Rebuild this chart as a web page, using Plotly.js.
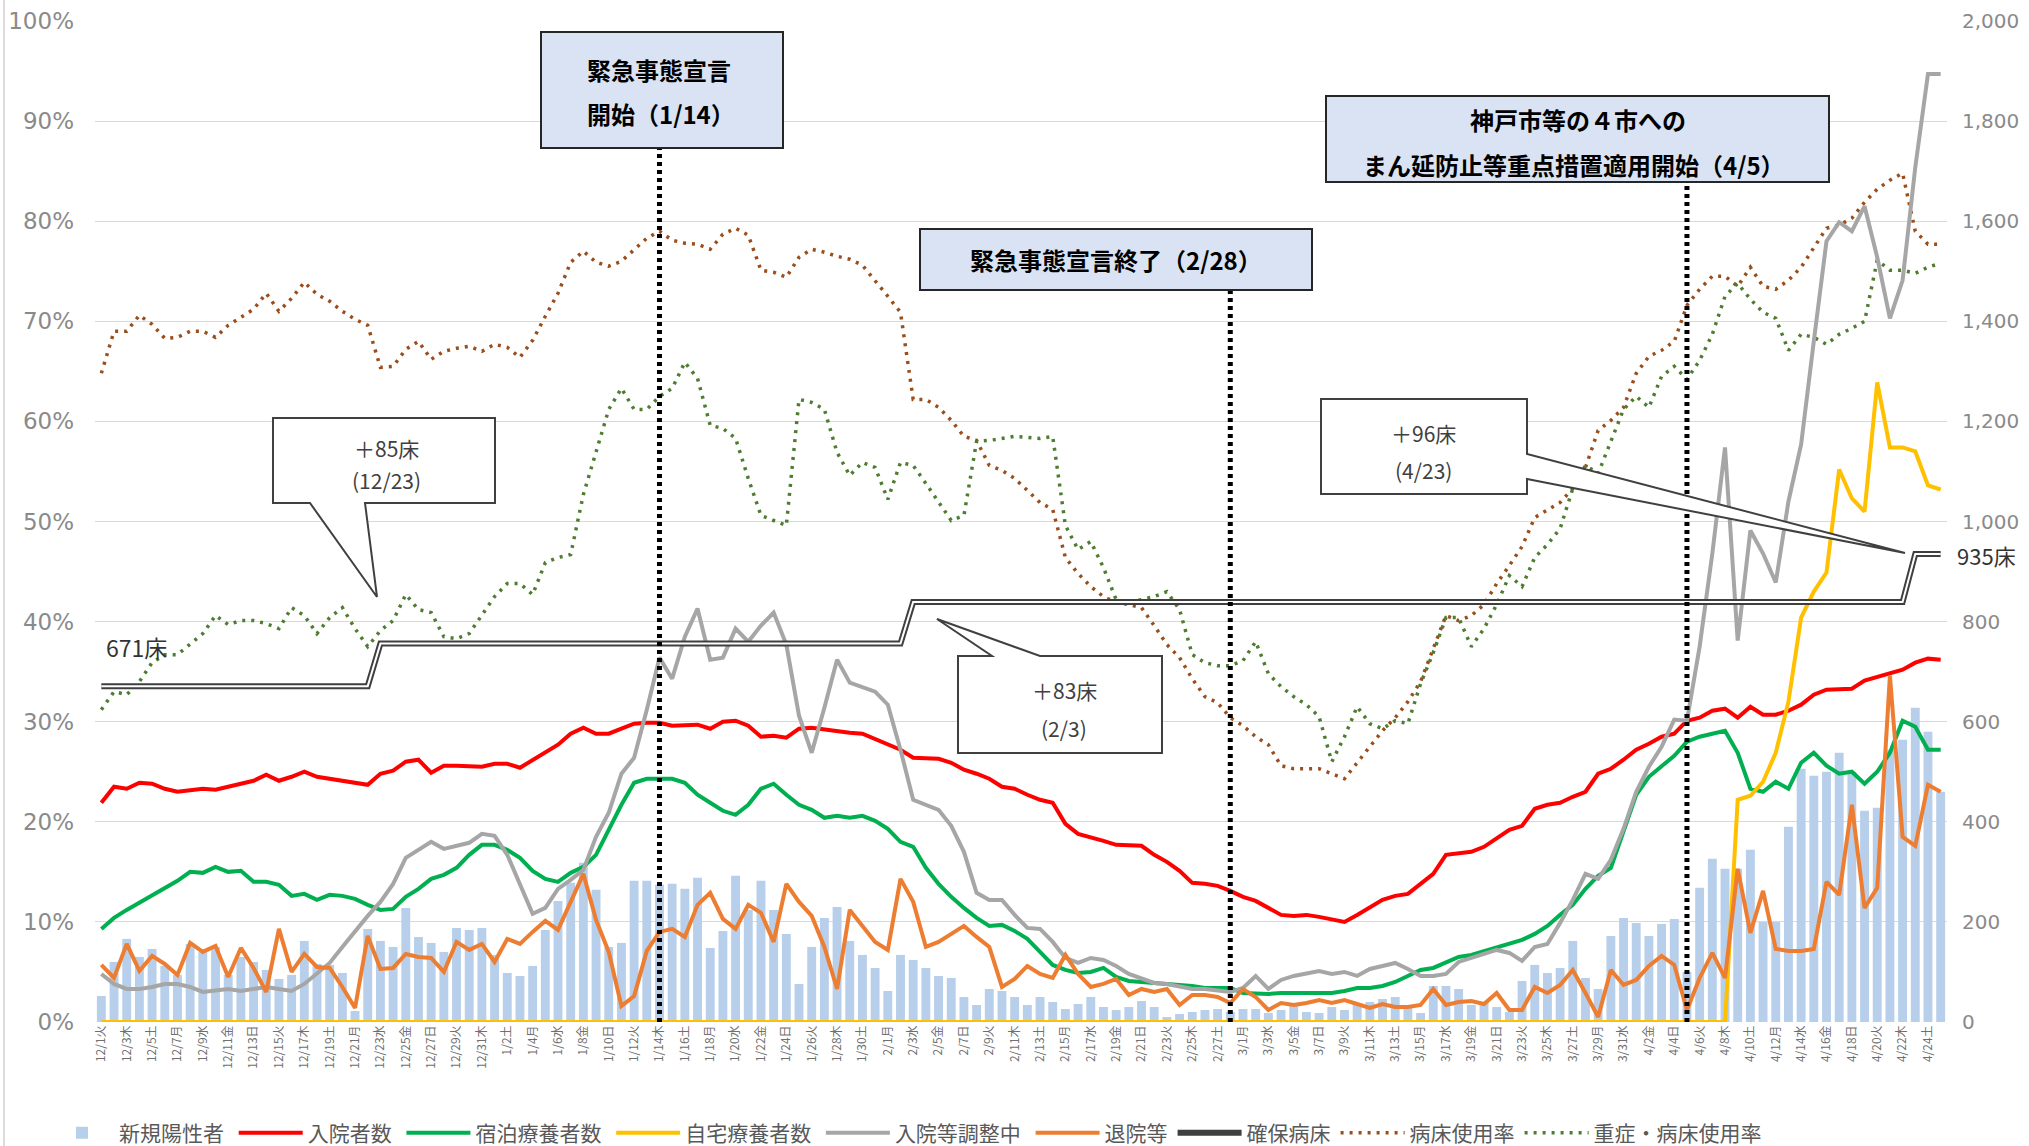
<!DOCTYPE html>
<html><head><meta charset="utf-8">
<script src="https://cdn.plot.ly/plotly-3.0.1.min.js"></script>
<style>html,body{margin:0;padding:0;background:#fff;}#chart{width:2029px;height:1146px;}</style>
</head><body><div id="chart"></div>
<script>
// ---- tick labels (every other day, 12/1 .. 4/24) ----
const tickLabels = ["12/1火","12/3木","12/5土","12/7月","12/9水","12/11金","12/13日","12/15火","12/17木","12/19土","12/21月","12/23水","12/25金","12/27日","12/29火","12/31木","1/2土","1/4月","1/6水","1/8金","1/10日","1/12火","1/14木","1/16土","1/18月","1/20水","1/22金","1/24日","1/26火","1/28木","1/30土","2/1月","2/3水","2/5金","2/7日","2/9火","2/11木","2/13土","2/15月","2/17水","2/19金","2/21日","2/23火","2/25木","2/27土","3/1月","3/3水","3/5金","3/7日","3/9火","3/11木","3/13土","3/15月","3/17水","3/19金","3/21日","3/23火","3/25木","3/27土","3/29月","3/31水","4/2金","4/4日","4/6火","4/8木","4/10土","4/12月","4/14水","4/16金","4/18日","4/20火","4/22木","4/24土"];

// ---- daily series, 12/1 .. 4/25 (146 days) ----
const newPositive = [52,120,166,130,146,112,94,156,140,150, 94,130,120,104,86,94,162,116,114,98, 22,186,162,150,228,170,158,140,188,184, 188,134,98,92,112,184,242,278,318,264, 150,158,282,282,274,276,266,288,148,182, 292,224,282,224,176,76,150,208,230,162, 134,108,62,134,124,108,92,88,50,34, 66,62,50,34,50,40,26,36,50,30, 24,30,42,30,10,16,20,24,26,20, 26,26,18,24,34,20,18,30,24,36, 40,46,50,30,18,72,72,66,34,40, 30,20,82,114,98,108,162,88,66,172, 208,198,172,196,206,100,268,326,306,306, 344,200,200,390,506,492,500,538,500,422, 428,544,564,628,580,460];
const hospitalized = [438,470,466,478,476,466,460,464,466,464, 470,476,482,494,482,490,500,490,486,482, 476,474,496,502,520,524,498,512,512,512, 510,516,516,508,524,538,554,576,588,576, 576,586,596,598,598,592,592,594,586,600, 602,592,570,572,568,586,588,584,582,578, 576,566,554,544,528,526,526,518,504,496, 486,470,466,454,444,438,396,376,370,362, 354,354,352,334,320,302,278,276,272,262, 250,242,228,214,212,214,210,204,200,214, 228,244,252,256,276,296,334,336,340,350, 366,384,392,426,434,438,450,460,496,506, 524,544,556,570,576,602,608,622,626,608, 630,614,614,622,634,654,664,666,666,682, 690,698,704,718,726,724];
const hotelCare = [186,208,224,238,252,266,282,300,298,310, 300,302,280,280,274,252,256,244,254,252, 246,234,224,226,250,266,286,294,308,334, 354,354,344,328,302,286,280,298,310,334, 386,434,478,486,486,486,478,454,438,422, 414,434,466,476,454,434,424,408,412,408, 412,402,386,360,350,308,276,250,228,208, 192,194,182,166,140,114,104,98,100,108, 90,82,80,78,76,72,72,68,68,68, 58,56,56,58,58,58,58,58,62,68, 68,72,80,92,104,108,118,130,134,142, 150,156,164,176,192,214,234,266,292,308, 382,454,490,512,532,560,570,576,582,538, 466,460,480,466,518,538,512,496,500,476, 500,538,602,590,544,544];
const homeCare = [0,0,0,0,0,0,0,0,0,0, 0,0,0,0,0,0,0,0,0,0, 0,0,0,0,0,0,0,0,0,0, 0,0,0,0,0,0,0,0,0,0, 0,0,0,0,0,0,0,0,0,0, 0,0,0,0,0,0,0,0,0,0, 0,0,0,0,0,0,0,0,0,0, 0,0,0,0,0,0,0,0,0,0, 0,0,0,0,0,0,0,0,0,0, 0,0,0,0,0,0,0,0,0,0, 0,0,0,0,0,0,0,0,0,0, 0,0,0,0,0,0,0,0,0,0, 0,0,0,0,0,0,0,0,0,444, 452,480,538,640,808,860,898,1104,1046,1020, 1278,1148,1148,1140,1072,1064];
const adjusting = [96,76,66,66,70,76,76,70,60,62, 66,62,66,70,66,62,76,96,118,150, 182,212,240,276,328,344,360,346,352,358, 376,372,334,276,216,228,266,284,304,370, 418,496,528,624,728,686,770,826,724,728, 786,760,792,818,754,612,538,628,724,678, 670,660,634,544,444,434,424,392,340,258, 244,244,214,188,186,160,128,118,128,124, 112,96,86,78,76,70,66,66,64,60, 68,92,66,84,92,96,102,96,100,92, 106,112,118,106,92,92,96,120,128,138, 144,138,122,150,156,198,244,296,286,324, 386,460,510,550,604,602,750,936,1148,762, 982,936,878,1040,1154,1360,1560,1598,1580,1630, 1528,1406,1482,1708,1894,1894];
const discharged = [114,88,156,102,132,116,94,158,140,152, 90,148,108,60,186,100,136,110,108,70, 28,172,106,108,136,130,128,100,160,144, 156,120,166,156,180,202,184,242,296,204, 140,32,52,142,180,186,170,234,258,206, 186,234,218,160,276,240,212,150,66,224, 192,160,144,286,240,150,160,176,192,170, 150,70,86,112,96,88,134,96,70,76, 86,54,66,60,66,34,54,54,50,38, 66,50,24,38,34,38,44,38,44,36, 28,36,30,30,34,66,34,40,42,36, 58,24,24,70,58,74,104,58,10,104, 74,84,112,132,114,24,88,138,88,306, 178,262,146,142,142,146,280,254,434,228, 268,692,370,352,474,460];
const securedBeds = [671,671,671,671,671,671,671,671,671,671, 671,671,671,671,671,671,671,671,671,671, 671,671,756,756,756,756,756,756,756,756, 756,756,756,756,756,756,756,756,756,756, 756,756,756,756,756,756,756,756,756,756, 756,756,756,756,756,756,756,756,756,756, 756,756,756,756,839,839,839,839,839,839, 839,839,839,839,839,839,839,839,839,839, 839,839,839,839,839,839,839,839,839,839, 839,839,839,839,839,839,839,839,839,839, 839,839,839,839,839,839,839,839,839,839, 839,839,839,839,839,839,839,839,839,839, 839,839,839,839,839,839,839,839,839,839, 839,839,839,839,839,839,839,839,839,839, 839,839,839,935,935,935];
const bedUseRate = [64.8,69.0,69.0,70.6,69.7,68.3,68.4,69.0,69.0,68.4, 69.6,70.4,71.2,72.8,71.0,72.3,73.9,72.7,72.0,71.0, 70.2,69.6,65.4,65.5,67.2,68.0,66.2,67.0,67.3,67.5, 67.0,67.7,67.4,66.4,68.1,70.5,72.8,75.9,77.0,75.9, 75.5,76.0,77.2,78.3,79.0,78.1,77.8,77.7,77.2,78.7, 79.3,78.6,75.1,74.9,74.4,76.4,77.2,76.9,76.5,76.2, 75.6,74.1,72.5,70.9,62.2,62.2,61.4,60.1,58.5,58.1, 55.6,55.1,54.3,53.1,51.9,51.2,46.4,44.8,43.5,42.5, 41.9,41.7,41.4,39.6,37.7,36.4,34.3,32.5,31.9,30.4, 29.6,28.5,27.7,25.6,25.3,25.3,25.3,24.8,24.3,25.9, 27.5,29.1,30.4,32.0,34.0,37.2,40.6,40.1,40.6,41.7, 43.8,45.6,47.5,50.4,51.2,51.9,53.3,55.4,59.1,60.1, 61.4,64.8,66.5,67.1,68.0,71.6,73.2,74.5,74.5,73.5, 75.4,73.5,73.2,74.1,75.4,77.4,79.3,79.6,80.3,81.9, 83.2,84.1,84.8,79.0,77.7,77.7];
const severeUseRate = [31.2,33.0,32.7,34.0,35.9,36.7,36.7,37.7,38.8,40.6, 39.7,40.1,40.1,39.8,39.3,41.4,40.6,38.8,40.4,41.4, 39.3,37.5,39.1,40.1,42.7,41.2,40.9,38.5,38.3,38.8, 40.6,42.5,43.8,43.8,42.7,45.9,46.4,46.7,52.7,56.9, 61.2,63.3,61.2,61.2,62.5,63.3,65.9,64.3,59.6,59.3, 58.3,54.3,50.6,50.1,49.6,62.2,61.9,61.2,56.9,54.6, 55.9,55.4,52.2,55.9,55.6,53.8,51.9,50.1,50.6,58.0, 58.1,58.3,58.5,58.4,58.3,58.5,49.6,47.2,48.0,45.4, 42.2,41.9,42.2,42.5,43.0,41.2,36.7,35.9,35.6,35.6, 36.1,38.0,34.8,33.5,32.5,31.7,30.5,26.0,28.5,31.5, 29.8,29.3,30.1,29.8,33.8,36.9,40.4,40.4,37.5,39.3, 41.7,44.6,43.5,46.4,47.7,49.3,53.3,55.6,54.8,58.0, 61.2,62.5,61.4,64.5,65.5,64.2,66.1,68.7,72.5,73.8, 72.2,70.9,70.3,67.1,68.7,68.4,67.7,68.7,69.3,70.0, 76.1,75.1,75.1,74.8,75.4,75.8];

// ---- events (day index from 12/1) ----
const eventDays = [44, 89, 125];       // 1/14, 2/28, 4/5
const eventTopRate = [87.3, 73.1, 83.9];

// ---- layout helpers (pixel -> paper) ----
const W = 2029, H = 1146, L = 95, R = 82, T = 21, B = 124;
const PW = W - L - R, PH = H - T - B;
const px = x => (x - L) / PW;
const py = y => (H - B - y) / PH;
const pathOf = pts => pts.map((p, i) => (i ? 'L' : 'M') + px(p[0]).toFixed(5) + ',' + py(p[1]).toFixed(5)).join(' ') + ' Z';

const days = newPositive.map((_, i) => i);
const FONT = '"Noto Sans CJK JP", "Noto Sans", sans-serif';
const NB = '\u00a0';

const traces = [
  {type:'bar', name:'新規陽性者' + NB, x:days, y:newPositive, yaxis:'y2', marker:{color:'#b7cfea'}, legendrank:1},
  {type:'scatter', mode:'lines', name:'入院者数' + NB, x:days, y:hospitalized, yaxis:'y2', line:{color:'#ff0000', width:4}, legendrank:2},
  {type:'scatter', mode:'lines', name:'宿泊療養者数' + NB, x:days, y:hotelCare, yaxis:'y2', line:{color:'#00b050', width:4}, legendrank:3},
  {type:'scatter', mode:'lines', name:'自宅療養者数' + NB, x:days, y:homeCare, yaxis:'y2', line:{color:'#ffc000', width:4}, legendrank:4},
  {type:'scatter', mode:'lines', name:'入院等調整中' + NB, x:days, y:adjusting, yaxis:'y2', line:{color:'#a6a6a6', width:4}, legendrank:5},
  {type:'scatter', mode:'lines', name:'退院等', x:days, y:discharged, yaxis:'y2', line:{color:'#ed7d31', width:4}, legendrank:6},
  {type:'scatter', mode:'lines', name:'確保病床', x:days, y:securedBeds, yaxis:'y2', line:{color:'#3f3f3f', width:6}, legendrank:7},
  {type:'scatter', mode:'lines', name:'確保病床w', x:days, y:securedBeds, yaxis:'y2', line:{color:'#ffffff', width:2}, showlegend:false, hoverinfo:'skip'},
  {type:'scatter', mode:'lines', name:'病床使用率', x:days, y:bedUseRate, yaxis:'y', line:{color:'#9a4e1c', width:3.5, dash:'3px,6px'}, legendrank:8},
  {type:'scatter', mode:'lines', name:'重症・病床使用率', x:days, y:severeUseRate, yaxis:'y', line:{color:'#4e7d32', width:3.5, dash:'3px,6px'}, legendrank:9}
];

const shapes = [
  {type:'line', xref:'paper', yref:'y', x0:0, x1:1, y0:50, y1:50, line:{color:'#e06666', width:1, dash:'dash'}, layer:'below'},
  {type:'line', xref:'paper', yref:'paper', x0:px(4), x1:px(4), y0:py(0), y1:py(1146), line:{color:'#d0d0d0', width:1.5}}
];
eventDays.forEach((d, i) => shapes.push({type:'line', xref:'x', yref:'y', x0:d, x1:d, y0:0, y1:eventTopRate[i], line:{color:'#000000', width:5, dash:'4px,4px'}}));
[[541,32,783,148],[920,229,1312,290],[1326,96,1829,182]].forEach(b => shapes.push({type:'rect', xref:'paper', yref:'paper', x0:px(b[0]), x1:px(b[2]), y0:py(b[3]), y1:py(b[1]), fillcolor:'#dae3f3', line:{color:'#262626', width:2}}));
[
  [[273,418],[495,418],[495,503],[365,503],[377,597],[310,503],[273,503]],
  [[958,656],[992,656],[937,619],[1040,656],[1162,656],[1162,753],[958,753]],
  [[1321,399],[1527,399],[1527,454],[1905,553],[1527,479],[1527,494],[1321,494]]
].forEach(p => shapes.push({type:'path', xref:'paper', yref:'paper', path:pathOf(p), fillcolor:'#ffffff', line:{color:'#404040', width:2}}));

const ann = (text, x, y, o = {}) => Object.assign({xref:'paper', yref:'paper', x:px(x), y:py(y), text:text, showarrow:false, xanchor:'center', yanchor:'middle', font:{family:FONT, size:21, color:'#404040'}}, o);
const bold = {family:FONT, size:24, color:'#000000', weight:700};
const annotations = [
  ann('<b>緊急事態宣言</b>', 585, 69, {xanchor:'left', font:bold}),
  ann('<b>開始（1/14）</b>', 585, 113, {xanchor:'left', font:bold}),
  ann('<b>緊急事態宣言終了（2/28）</b>', 1116, 259, {font:bold}),
  ann('<b>神戸市等の４市への</b>', 1578, 119, {font:bold}),
  ann('<b>まん延防止等重点措置適用開始（4/5）</b>', 1574, 164, {font:bold}),
  ann('＋85床', 386, 448), ann('(12/23)', 386, 480),
  ann('＋83床', 1064, 690), ann('(2/3)', 1064, 728),
  ann('＋96床', 1423, 433), ann('(4/23)', 1423, 470),
  ann('671床', 104, 647, {xanchor:'left', font:{family:FONT, size:23, color:'#333333'}}),
  ann('935床', 1955, 555, {xanchor:'left', font:{family:FONT, size:22, color:'#333333'}})
];

const layout = {
  width:W, height:H, margin:{l:L, r:R, t:T, b:B, autoexpand:false}, paper_bgcolor:'#ffffff', plot_bgcolor:'#ffffff',
  showlegend:true, bargap:0.3,
  font:{family:FONT, color:'#595959'},
  xaxis:{range:[-0.5, 145.5], tickmode:'array', tickvals:tickLabels.map((_, i) => 2*i), ticktext:tickLabels, automargin:false,
         tickangle:-90, tickfont:{size:12, color:'#6f6f6f', family:FONT}, showgrid:false, zeroline:false, showline:false, ticks:''},
  yaxis:{range:[0,100], dtick:10, ticksuffix:'%', gridcolor:'#d9d9d9', gridwidth:1, zeroline:false, showline:false, ticks:'', automargin:false,
         tickfont:{family:'DejaVu Sans', size:23, color:'#8a8a8a'}, ticklabelstandoff:20},
  yaxis2:{range:[0,2000], dtick:200, tickformat:',d', overlaying:'y', side:'right', showgrid:false, zeroline:false, showline:false, ticks:'', automargin:false,
         tickfont:{family:'DejaVu Sans', size:20, color:'#8a8a8a'}, ticklabelstandoff:14},
  legend:{orientation:'h', xref:'container', yref:'container', x:45/W, xanchor:'left', y:1 - 1133/H, yanchor:'middle',
          font:{family:FONT, size:21, color:'#595959'}, itemwidth:64, bgcolor:'rgba(0,0,0,0)', traceorder:'normal'},
  shapes:shapes, annotations:annotations
};

Plotly.newPlot('chart', traces, layout, {displayModeBar:false, staticPlot:true});
</script></body></html>
